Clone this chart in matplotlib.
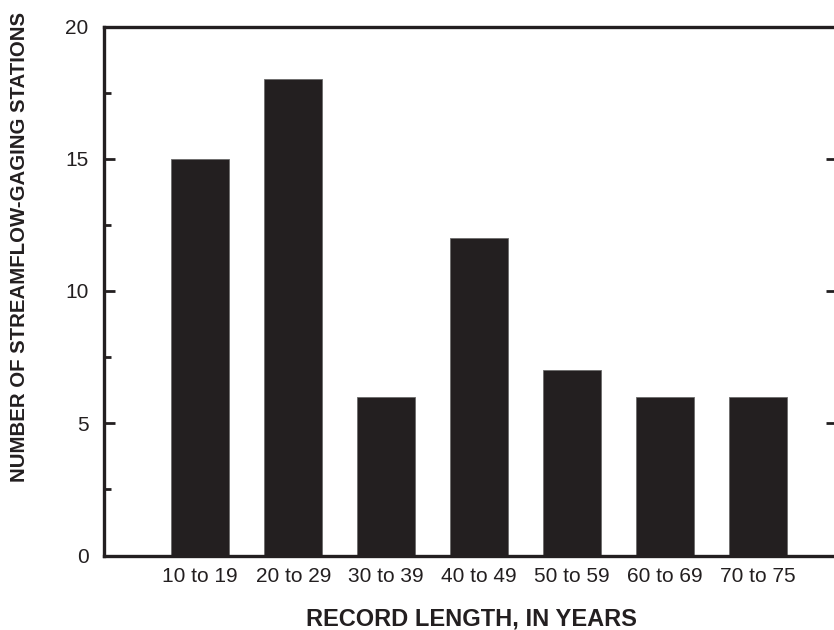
import matplotlib
matplotlib.use("Agg")
import matplotlib.pyplot as plt
from matplotlib.ticker import MultipleLocator

# record-length classes and station counts
categories = ["10 to 19", "20 to 29", "30 to 39", "40 to 49",
              "50 to 59", "60 to 69", "70 to 75"]
stations = [15, 18, 6, 12, 7, 6, 6]
y_ticks = [0, 5, 10, 15, 20]

INK = "#231f20"
plt.rcParams["font.family"] = ["Liberation Sans", "DejaVu Sans"]

fig = plt.figure(figsize=(8.34, 6.3), dpi=100)
# right spine sits just past the image edge, as in the original scan
ax = fig.add_axes([104 / 834, 74.5 / 630, 733 / 834, 529 / 630])

xs = list(range(len(categories)))
ax.bar(xs, stations, width=0.62, color=INK, edgecolor="#6b6b6b", linewidth=0.6)

ax.set_xlim(-1.035, 6.847)
ax.set_ylim(0, 20)
ax.set_xticks(xs)
ax.set_xticklabels(categories)
ax.set_yticks(y_ticks)
ax.yaxis.set_minor_locator(MultipleLocator(2.5))

for s in ax.spines.values():
    s.set_linewidth(2.4)
    s.set_color(INK)

ax.tick_params(axis="x", length=0, pad=8, labelsize=15, labelcolor=INK)
ax.tick_params(axis="y", which="major", direction="in", length=8, width=2,
               color=INK, labelsize=15, labelcolor=INK, pad=11, right=True)
ax.tick_params(axis="y", which="minor", direction="in", length=5, width=2,
               color=INK, right=False)

fig.text(20 / 834, 1 - 247 / 630, "NUMBER OF STREAMFLOW-GAGING STATIONS",
         rotation=90, ha="center", va="center", fontsize=14.7,
         fontweight="bold", color=INK)
fig.text(471 / 834, 1 - 619 / 630, "RECORD LENGTH, IN YEARS",
         ha="center", va="center", fontsize=17, fontweight="bold", color=INK)

fig.savefig("out.png", dpi=100)
